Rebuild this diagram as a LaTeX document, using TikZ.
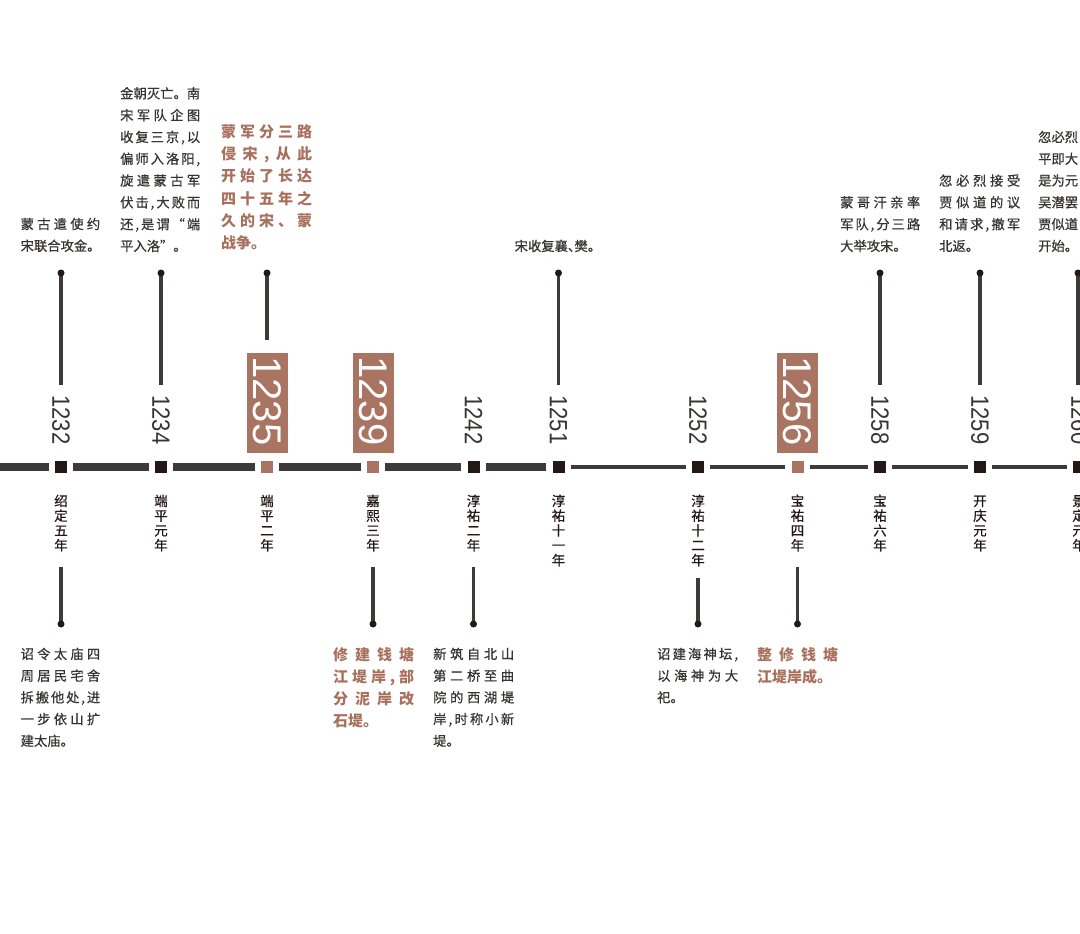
\documentclass[tikz,border=0pt]{standalone}
\usepackage{fontspec}
\setmainfont{Liberation Sans}
\newfontfamily\cjk[FakeBold=0.7]{Noto Sans CJK SC}
\newfontfamily\cjkb{Noto Sans CJK SC}
\newfontfamily\numc[FakeStretch=0.88]{Liberation Sans}
\definecolor{barc}{HTML}{3E3A39}
\definecolor{sqc}{HTML}{231815}
\definecolor{brn}{HTML}{A97562}
\definecolor{brt}{HTML}{A8705C}
\definecolor{txc}{HTML}{383433}
\newdimen\bw
\def\spr#1{\sprA#1\relax}
\def\sprA#1{#1\sprB}
\def\sprB#1{\ifx#1\relax\else\hfill#1\expandafter\sprB\fi}
\newcommand\jj[1]{\hbox to\bw{\spr{#1}}}
\newcommand\ee[1]{\hbox{#1}}
\newcommand\blk[3]{\vtop{\bw=#1pt\baselineskip=#2pt\lineskiplimit=-50pt\lineskip=0pt #3}}
\def\vcA#1{\ifx#1\relax\else\hbox to0pt{\hss#1\hss}\expandafter\vcA\fi}
\newcommand\vch[1]{\vtop{\baselineskip=14.8pt\lineskiplimit=-50pt\lineskip=0pt\vcA#1\relax}}
\tikzset{
 bar/.style={line width=8pt, draw=barc},
 tbar/.style={line width=4.5pt, draw=barc},
 gap/.style={shorten <=6pt, shorten >=6pt},
 sq/.style={fill=sqc, minimum size=12pt, inner sep=0pt},
 bsq/.style={fill=brn, minimum size=12pt, inner sep=0pt},
 dot/.style={circle, fill=sqc, minimum size=7pt, inner sep=0pt},
 conn/.style={draw=barc, line width=3.5pt},
 yr/.style={rotate=-90, inner sep=0pt, text=txc, font=\numc\fontsize{25}{25}\selectfont},
 ybox/.style={fill=brn, minimum width=41pt, minimum height=100pt, inner sep=0pt},
 ybt/.style={rotate=-90, inner sep=0pt, text=white, font=\fontsize{40}{40}\selectfont},
 reign/.style={anchor=base, inner sep=0pt, text=sqc, font=\cjk\fontsize{13.5}{14.8}\selectfont},
 body/.style={anchor=base west, inner sep=0pt, text=txc, font=\cjk\fontsize{13.3}{21.8}\selectfont},
 brown/.style={anchor=base west, inner sep=0pt, text=brt, font=\cjkb\bfseries\fontsize{15}{22}\selectfont},
}
\begin{document}
\begin{tikzpicture}[x=1pt,y=-1pt]
\path[use as bounding box] (0,0) rectangle (1080,934);
\clip (0,0) rectangle (1080,934);
% squares on the timeline
\node[sq]  (s1232) at (61,467) {};
\node[sq]  (s1234) at (161,467) {};
\node[bsq] (s1235) at (267,467) {};
\node[bsq] (s1239) at (373,467) {};
\node[sq]  (s1242) at (473.5,467) {};
\node[sq]  (s1251) at (558.5,467) {};
\node[sq]  (s1252) at (698,467) {};
\node[bsq] (s1256) at (797.5,467) {};
\node[sq]  (s1258) at (880,467) {};
\node[sq]  (s1259) at (980,467) {};
\node[sq]  (s1260) at (1079,467) {};
\coordinate (L0) at (0,467);
% timeline bars
\draw[bar, shorten >=6pt] (L0) -- (s1232);
\draw[bar, gap] (s1232) -- (s1234);
\draw[bar, gap] (s1234) -- (s1235);
\draw[bar, gap] (s1235) -- (s1239);
\draw[bar, gap] (s1239) -- (s1242);
\draw[bar, gap] (s1242) -- (s1251);
\draw[tbar, gap] (s1251) -- (s1252);
\draw[tbar, gap] (s1252) -- (s1256);
\draw[tbar, gap] (s1256) -- (s1258);
\draw[tbar, gap] (s1258) -- (s1259);
\draw[tbar, gap] (s1259) -- (s1260);
% year labels
\node[yr] (y1232) at (61,420) {1232};
\node[yr] (y1234) at (161,420) {1234};
\node[ybox] (b1235) at (267,403) {};
\node[ybt] (y1235) at (267,401) {1235};
\node[ybox] (b1239) at (373,403) {};
\node[ybt] (y1239) at (373,401) {1239};
\node[yr] (y1242) at (473.5,420) {1242};
\node[yr] (y1251) at (558.5,420) {1251};
\node[yr] (y1252) at (698,420) {1252};
\node[ybox] (b1256) at (797.5,403) {};
\node[ybt] (y1256) at (797.5,401) {1256};
\node[yr] (y1258) at (880,420) {1258};
\node[yr] (y1259) at (980,420) {1259};
\node[yr] (y1260) at (1080,420) {1260};
% reign labels
\node[reign] (r1232) at (61,506) {\vch{绍定五年}};
\node[reign] (r1234) at (161,506) {\vch{端平元年}};
\node[reign] (r1235) at (267,506) {\vch{端平二年}};
\node[reign] (r1239) at (373,506) {\vch{嘉熙三年}};
\node[reign] (r1242) at (473.5,506) {\vch{淳祐二年}};
\node[reign] (r1251) at (558.5,506) {\vch{淳祐十一年}};
\node[reign] (r1252) at (698,506) {\vch{淳祐十二年}};
\node[reign] (r1256) at (797.5,506) {\vch{宝祐四年}};
\node[reign] (r1258) at (880,506) {\vch{宝祐六年}};
\node[reign] (r1259) at (980,506) {\vch{开庆元年}};
\node[reign] (r1260) at (1079,506) {\vch{景定元年}};
% upper connectors
\coordinate (ue1232) at (61,385);
\coordinate (ue1234) at (161,385);
\coordinate (ue1235) at (267,340);
\coordinate (ue1251) at (558.5,385);
\coordinate (ue1258) at (880,385);
\coordinate (ue1259) at (980,385);
\coordinate (ue1260) at (1078,385);
\coordinate (uc1232) at (61,273);
\coordinate (uc1234) at (161,273);
\coordinate (uc1235) at (267,273);
\coordinate (uc1251) at (558.5,273);
\coordinate (uc1258) at (880,273);
\coordinate (uc1259) at (980,273);
\coordinate (uc1260) at (1078,273);
\foreach \k in {1232,1234,1235,1251,1258,1259,1260}{
  \draw[conn] (uc\k) -- (ue\k);
  \node[dot] (u\k) at (uc\k) {};
}
% lower connectors
\coordinate (le1232) at (61,567);
\coordinate (le1239) at (373,567);
\coordinate (le1242) at (473.5,567);
\coordinate (le1252) at (698,578);
\coordinate (le1256) at (797.5,567);
\coordinate (lc1232) at (61,624);
\coordinate (lc1239) at (373,624);
\coordinate (lc1242) at (473.5,624);
\coordinate (lc1252) at (698,624);
\coordinate (lc1256) at (797.5,624);
\foreach \k in {1232,1239,1242,1252,1256}{
  \draw[conn] (le\k) -- (lc\k);
  \node[dot] (d\k) at (lc\k) {};
}
% upper texts
\node[body] (t1232) at (20.5,229) {\blk{79.5}{21.8}{\jj{蒙古遣使约}\ee{宋联合攻金。}}};
\node[body] (t1234) at (120,98.4) {\blk{80}{21.8}{\jj{金朝灭亡。南}\jj{宋军队企图}\jj{收复三京,以}\jj{偏师入洛阳,}\jj{旋遣蒙古军}\jj{伏击,大败而}\jj{还,是谓“端}\ee{平入洛”。}}};
\node[brown] (t1235) at (221,137.5) {\blk{91}{22.2}{\jj{蒙军分三路}\jj{侵宋,从此}\jj{开始了长达}\jj{四十五年之}\jj{久的宋、蒙}\ee{战争。}}};
\node[body] (t1251) at (514.5,251) {宋收复襄、\kern-0.5em樊。};
\node[body] (t1258) at (840,207.4) {\blk{80}{21.8}{\jj{蒙哥汗亲率}\jj{军队,分三路}\ee{大举攻宋。}}};
\node[body] (t1259) at (939,185.6) {\blk{81}{21.8}{\jj{忽必烈接受}\jj{贾似道的议}\jj{和请求,撤军}\ee{北返。}}};
\node[body] (t1260) at (1038,142) {\blk{80}{21.8}{\ee{忽必烈}\ee{平即大}\ee{是为元}\ee{吴潜罢}\ee{贾似道}\ee{开始。}}};
% lower texts
\node[body] (b1232t) at (20.5,659) {\blk{79.5}{21.7}{\jj{诏令太庙四}\jj{周居民宅舍}\jj{拆搬他处,进}\jj{一步依山扩}\ee{建太庙。}}};
\node[brown] (b1239t) at (333,660.5) {\blk{81}{22}{\jj{修建钱塘}\jj{江堤岸,部}\jj{分泥岸改}\ee{石堤。}}};
\node[body] (b1242t) at (433,659) {\blk{81}{21.7}{\jj{新筑自北山}\jj{第二桥至曲}\jj{院的西湖堤}\jj{岸,时称小新}\ee{堤。}}};
\node[body] (b1252t) at (657,659) {\blk{81}{21.7}{\jj{诏建海神坛,}\jj{以海神为大}\ee{祀。}}};
\node[brown] (b1256t) at (757,660.5) {\blk{81}{22}{\jj{整修钱塘}\ee{江堤岸成。}}};
\end{tikzpicture}
\end{document}
